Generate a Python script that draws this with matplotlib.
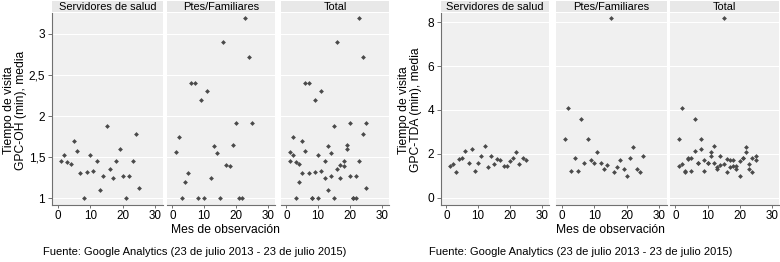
import matplotlib
matplotlib.use("Agg")
import matplotlib.pyplot as plt
import numpy as np

plt.rcParams['font.family'] = ['Liberation Sans', 'DejaVu Sans']

# months of observation
months = list(range(1, 26))

# GPC-OH, mean visit time (min)
oh_servidores = [1.45, 1.53, 1.44, 1.42, 1.70, 1.57, 1.31, 1.00, 1.32, 1.53,
                 1.33, 1.45, 1.10, 1.27, 1.88, 1.35, 1.24, 1.45, 1.60, 1.27,
                 1.00, 1.27, 1.45, 1.78, 1.12]
oh_ptes = [1.56, 1.74, 1.00, 1.20, 1.30, 2.40, 2.40, 1.00, 2.20, 1.00,
           2.30, 1.24, 1.64, 1.55, 1.00, 2.90, 1.40, 1.39, 1.65, 1.91,
           1.00, 1.00, 3.20, 2.72, 1.91]

# GPC-TDA, mean visit time (min)
tda_servidores = [1.47, 1.53, 1.20, 1.76, 1.82, 2.14, 1.61, 2.23, 1.24, 1.61,
                  1.89, 2.38, 1.41, 1.89, 1.53, 1.76, 1.71, 1.44, 1.44, 1.70,
                  1.82, 2.08, 1.53, 1.82, 1.73]
tda_ptes = [2.70, 4.10, 1.21, 1.80, 1.21, 3.59, 1.61, 2.70, 1.73, 1.61,
            2.09, 1.61, 1.30, 1.52, 8.17, 1.20, 1.39, 1.71, 1.30, 1.02,
            1.80, 2.30, 1.31, 1.20, 1.91]

facet_titles = ['Servidores de salud', 'Ptes/Familiares', 'Total']
footer = 'Fuente: Google Analytics (23 de julio 2013 - 23 de julio 2015)'

W, H = 780, 262
fig = plt.figure(figsize=(W / 100, H / 100), dpi=100)

BG = '#f0f0f0'
STRIP = '#e8e8e8'
MK = '#4a4a4a'
AX = '#707070'


def px_axes(x0, x1, y0, y1):
    # pixel box (top-left origin) -> figure axes
    return fig.add_axes([x0 / W, (H - y1) / H, (x1 - x0) / W, (y1 - y0) / H])


def draw_panel(boxes, serv, ptes, ylim, yticks, yticklabels, ylabel, ylab_x,
               xlab_x, foot_x):
    for i, (x0, x1) in enumerate(boxes):
        ax = px_axes(x0, x1, 13, 205)
        ax.set_facecolor(BG)
        if i == 0:
            xs, ys = months, serv
        elif i == 1:
            xs, ys = months, ptes
        else:
            xs, ys = months + months, serv + ptes
        ax.scatter(xs, ys, marker='D', s=6, color=MK, linewidths=0, zorder=3)
        ax.set_xlim(-1.7, 32.3)
        ax.set_ylim(*ylim)
        ax.set_xticks([0, 10, 20, 30])
        ax.set_yticks(yticks)
        for yv in yticks:
            ax.axhline(yv, color='white', lw=0.8, zorder=1)
        for s in ['top', 'right']:
            ax.spines[s].set_visible(False)
        ax.spines['bottom'].set_color(AX)
        ax.spines['bottom'].set_linewidth(0.8)
        ax.tick_params(axis='x', length=2.5, width=0.7, color=AX,
                       labelsize=8.4, pad=1)
        if i == 0:
            ax.spines['left'].set_color(AX)
            ax.spines['left'].set_linewidth(0.8)
            ax.set_yticklabels(yticklabels)
            ax.tick_params(axis='y', length=3, width=0.7, color=AX,
                           labelsize=8.6, pad=2)
        else:
            ax.spines['left'].set_visible(False)
            ax.tick_params(axis='y', left=False, labelleft=False)

        st = px_axes(x0, x1, 1, 12)
        st.set_facecolor(STRIP)
        st.set_xticks([])
        st.set_yticks([])
        for s in st.spines.values():
            s.set_visible(False)
        st.text(0.5, 0.45, facet_titles[i], ha='center', va='center',
                fontsize=7.9, transform=st.transAxes)

    fig.text(ylab_x / W, 1 - 110 / H, ylabel, rotation=90, ha='center',
             va='center', fontsize=8.7, linespacing=1.1)
    fig.text(xlab_x / W, 1 - 230 / H, 'Mes de observación', ha='center',
             va='center', fontsize=8.7)
    fig.text(foot_x / W, 1 - 252 / H, footer, ha='center', va='center',
             fontsize=8)


draw_panel([(52, 163), (167, 275), (281, 389)], oh_servidores, oh_ptes,
           (0.915, 3.256), [1, 1.5, 2, 2.5, 3], ['1', '1,5', '2', '2,5', '3'],
           'Tiempo de visita\nGPC-OH (min), media', 15, 225, 195)

draw_panel([(441, 549), (556, 667), (670, 779)], tda_servidores, tda_ptes,
           (-0.32, 8.41), [0, 2, 4, 6, 8], ['0', '2', '4', '6', '8'],
           'Tiempo de visita\nGPC-TDA (min), media', 410, 610, 581)

fig.savefig('out.png', dpi=100)
